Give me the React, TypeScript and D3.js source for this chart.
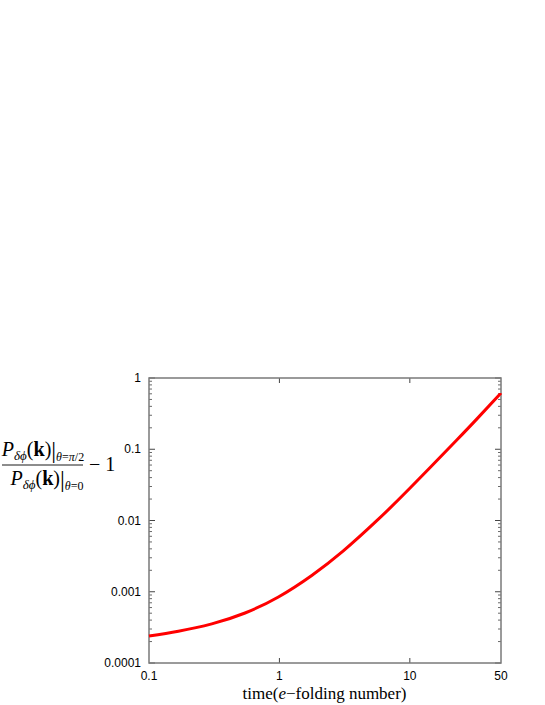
import React from "react";
import * as d3 from "d3";

const timeValues = [0.1, 0.168, 0.303, 0.545, 0.982, 1.77, 3.09, 5.58, 10.0, 22.9, 32.7, 50];
const ratioValues = [2.393e-4, 2.796e-4, 3.54e-4, 5.035e-4, 8.45e-4, 1.694e-3, 3.741e-3, 9.93e-3, 2.831e-2, 0.1346, 0.2667, 0.6152];
const xTickValues = [0.1, 1, 10, 50];
const xTickLabels = ["0.1", "1", "10", "50"];
const yTickValues = [1e-4, 1e-3, 1e-2, 1e-1, 1];
const yTickLabels = ["0.0001", "0.001", "0.01", "0.1", "1"];

const W = 545;
const H = 705;
const M = { left: 149, right: 501, top: 378, bottom: 663 };

export default function App() {
  const x = d3.scaleLog().domain([0.1, 50]).range([M.left, M.right]);
  const y = d3.scaleLog().domain([1e-4, 1]).range([M.bottom, M.top]);
  const data = timeValues.map((t, i) => ({ t, r: ratioValues[i] }));
  const line = d3
    .line<{ t: number; r: number }>()
    .x((d) => x(d.t))
    .y((d) => y(d.r))
    .curve(d3.curveNatural);

  const minorY: number[] = [];
  for (let e = -4; e < 0; e++) {
    for (let k = 2; k <= 9; k++) minorY.push(k * Math.pow(10, e));
  }
  const majorXInner = [1, 10];
  const axisColor = "#7a7a7a";
  const tickColor = "#444";
  const sans = "'Liberation Sans', Arial, Helvetica, sans-serif";
  const serif = "'Liberation Serif', 'Times New Roman', serif";

  return (
    <div style={{ position: "absolute", left: 0, top: 0, width: W, height: H, background: "#fff" }}>
      <svg width={W} height={H} viewBox={`0 0 ${W} ${H}`} style={{ display: "block" }}>
        <rect x={0} y={0} width={W} height={H} fill="#fff" />
        {minorY.map((v, i) => (
          <g key={"my" + i} stroke={tickColor} strokeWidth={0.8}>
            <line x1={M.left} x2={M.left + 3} y1={y(v)} y2={y(v)} />
            <line x1={M.right} x2={M.right - 3} y1={y(v)} y2={y(v)} />
          </g>
        ))}
        {yTickValues.map((v, i) => (
          <g key={"Y" + i}>
            <line x1={M.left} x2={M.left + 6} y1={y(v)} y2={y(v)} stroke={tickColor} strokeWidth={1} />
            <line x1={M.right} x2={M.right - 6} y1={y(v)} y2={y(v)} stroke={tickColor} strokeWidth={1} />
            <text
              x={M.left - 8}
              y={y(v) + 4}
              textAnchor="end"
              fontFamily={sans}
              fontSize={12}
              fill="#000"
            >
              {yTickLabels[i]}
            </text>
          </g>
        ))}
        {majorXInner.map((v, i) => (
          <g key={"X" + i} stroke={tickColor} strokeWidth={1}>
            <line x1={x(v)} x2={x(v)} y1={M.bottom} y2={M.bottom - 5} />
            <line x1={x(v)} x2={x(v)} y1={M.top} y2={M.top + 5} />
          </g>
        ))}
        {xTickValues.map((v, i) => (
          <text
            key={"xl" + i}
            x={x(v)}
            y={M.bottom + 17}
            textAnchor="middle"
            fontFamily={sans}
            fontSize={12}
            fill="#000"
          >
            {xTickLabels[i]}
          </text>
        ))}
        <rect
          x={M.left}
          y={M.top}
          width={M.right - M.left}
          height={M.bottom - M.top}
          fill="none"
          stroke={axisColor}
          strokeWidth={1.5}
        />
        <path d={line(data) || ""} fill="none" stroke="#ff0000" strokeWidth={3} />
        <text x={324.5} y={699} textAnchor="middle" fontFamily={serif} fontSize={17} fill="#000">
          <tspan>time(</tspan>
          <tspan fontStyle="italic">e</tspan>
          <tspan>−folding number)</tspan>
        </text>
        <g fontFamily={serif} fill="#000">
          <text x={43} y={456} textAnchor="middle" fontSize={20}>
            <tspan fontStyle="italic">P</tspan>
            <tspan fontStyle="italic" fontSize={13} dy={4}>δϕ</tspan>
            <tspan dy={-4}>(</tspan>
            <tspan fontWeight="bold">k</tspan>
            <tspan>)</tspan>
            <tspan fontSize={24} dy={2}>|</tspan>
            <tspan fontStyle="italic" fontSize={12} dy={3}>θ</tspan>
            <tspan fontSize={12}>=</tspan>
            <tspan fontStyle="italic" fontSize={12}>π</tspan>
            <tspan fontSize={12}>/2</tspan>
          </text>
          <line x1={2} x2={83} y1={465} y2={465} stroke="#000" strokeWidth={0.9} />
          <text x={47} y={485} textAnchor="middle" fontSize={20}>
            <tspan fontStyle="italic">P</tspan>
            <tspan fontStyle="italic" fontSize={13} dy={4}>δϕ</tspan>
            <tspan dy={-4}>(</tspan>
            <tspan fontWeight="bold">k</tspan>
            <tspan>)</tspan>
            <tspan fontSize={24} dy={2}>|</tspan>
            <tspan fontStyle="italic" fontSize={12} dy={3}>θ</tspan>
            <tspan fontSize={12}>=0</tspan>
          </text>
          <text x={89} y={471} fontSize={20}>
            − 1
          </text>
        </g>
      </svg>
    </div>
  );
}
